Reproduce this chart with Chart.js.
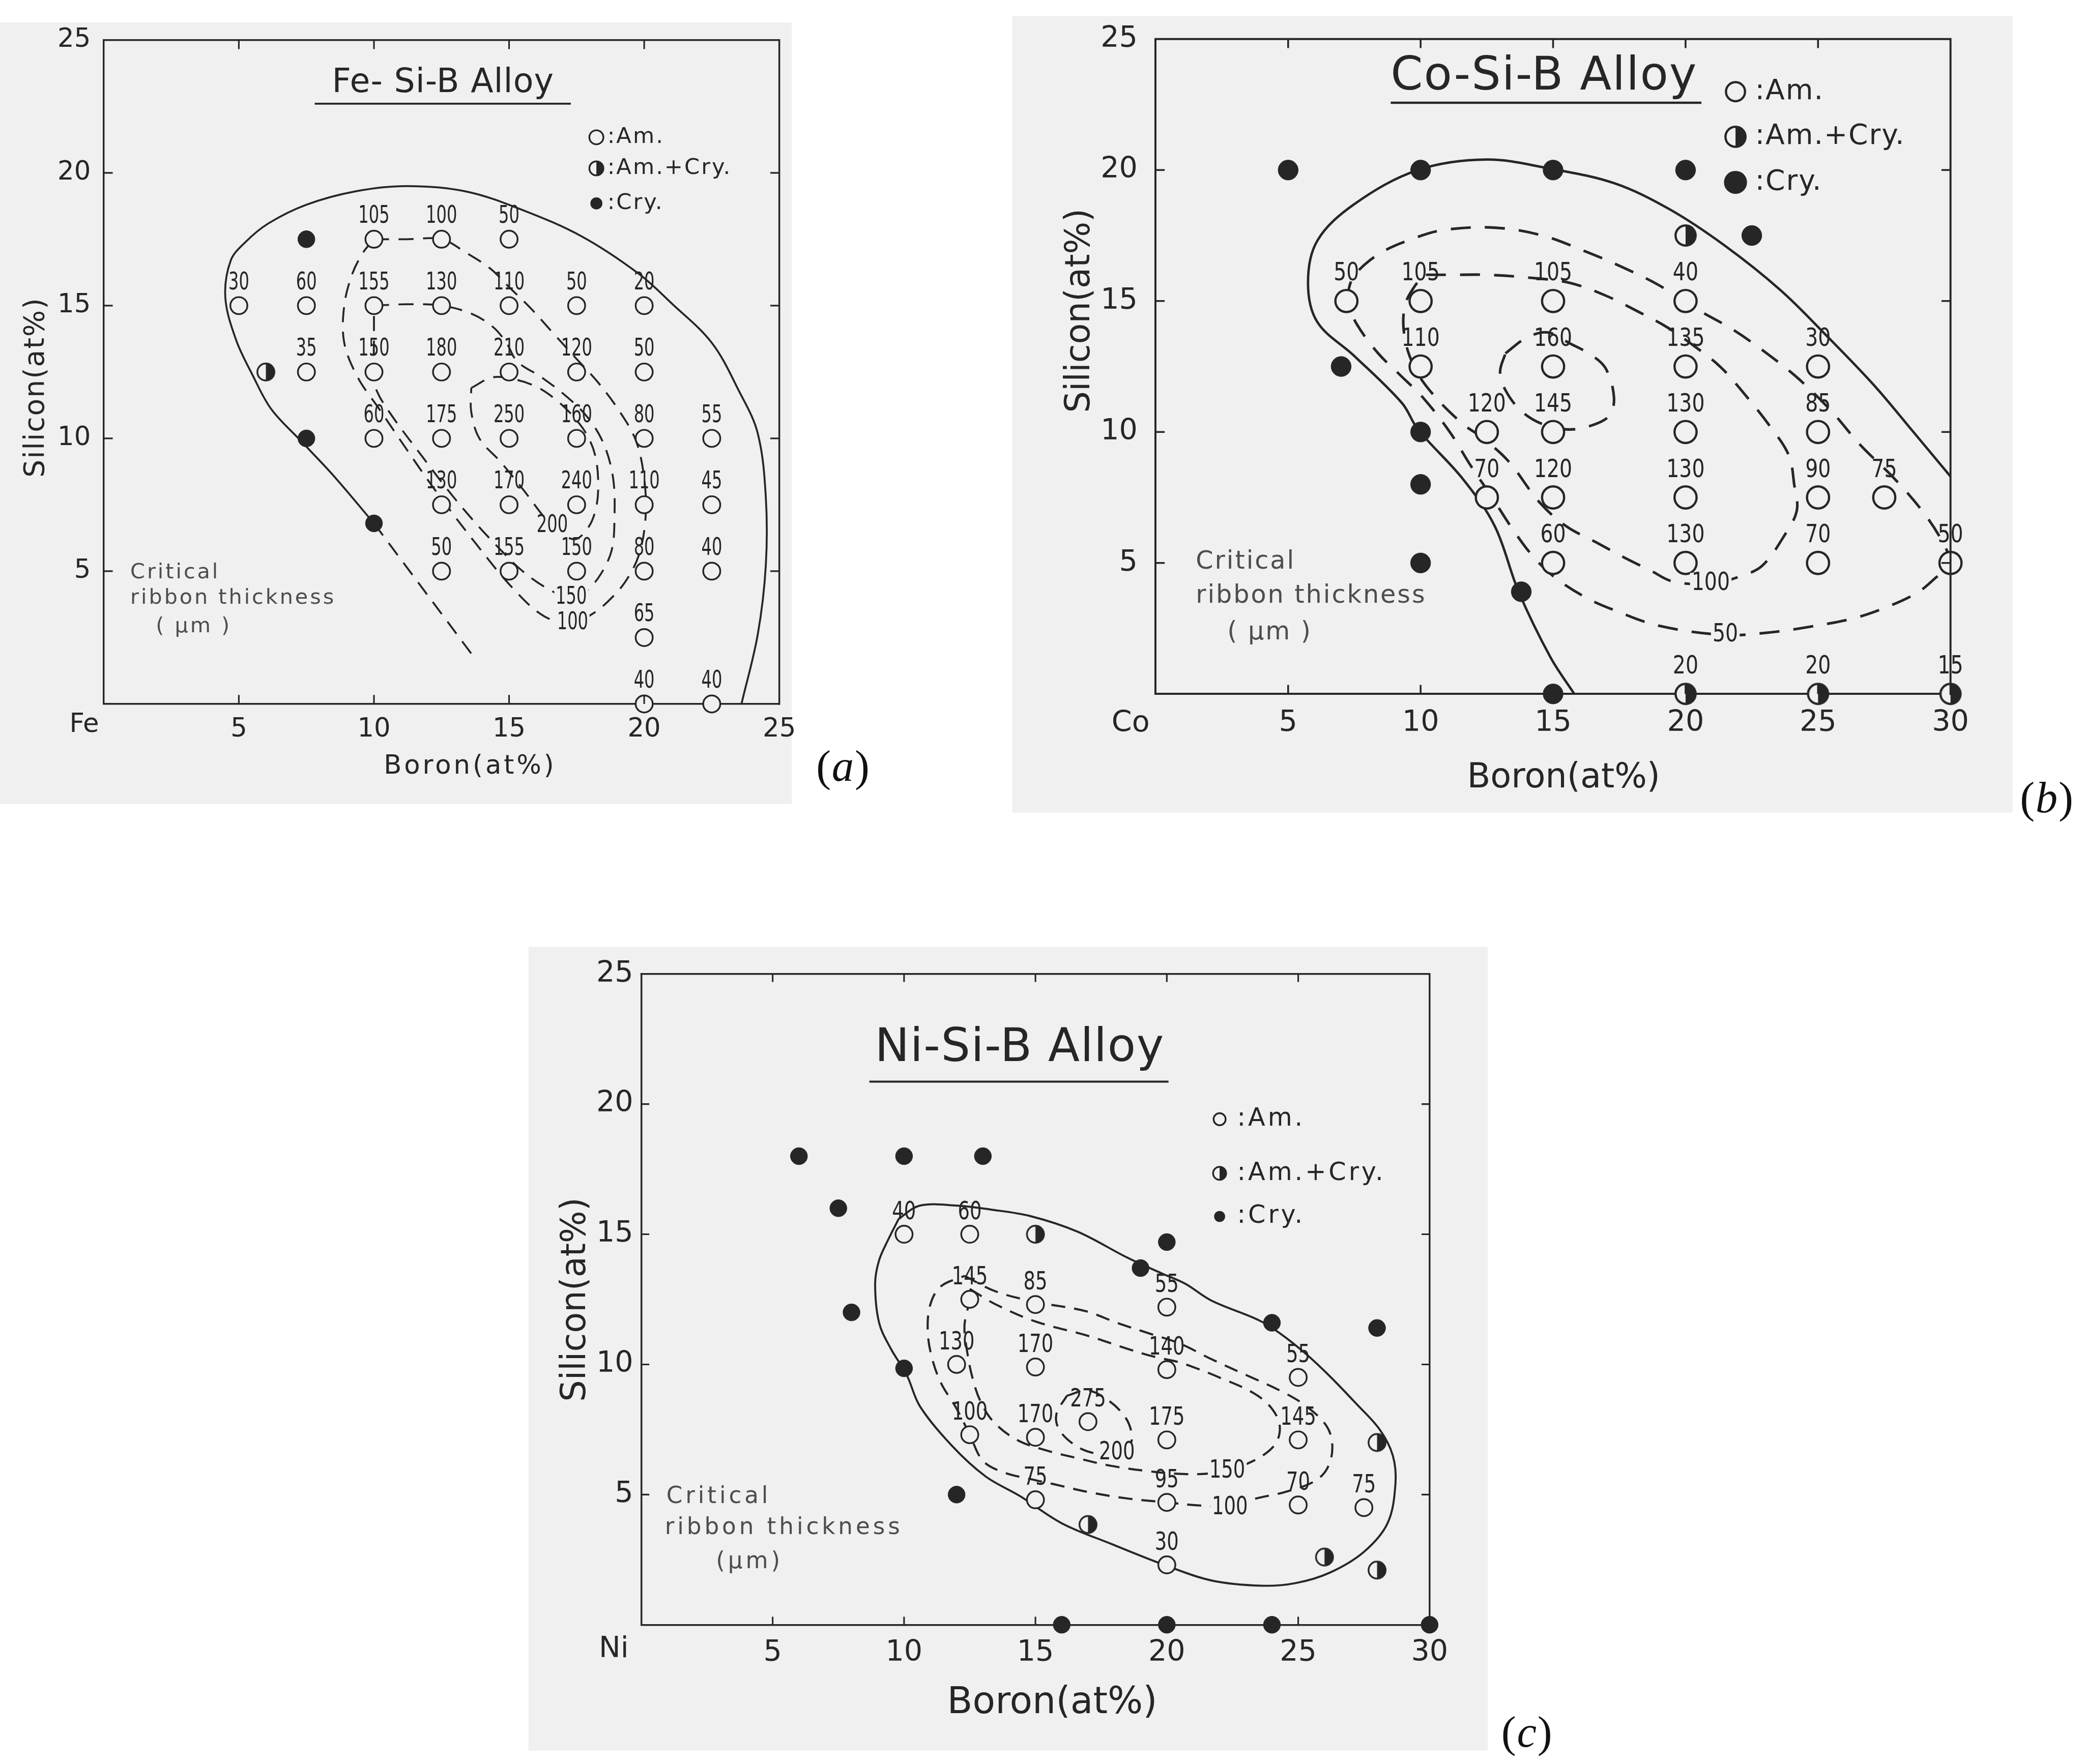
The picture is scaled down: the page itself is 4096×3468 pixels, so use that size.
<!DOCTYPE html>
<html lang="en">
<head>
<meta charset="utf-8">
<title>Critical ribbon thickness of Fe-, Co-, Ni-Si-B alloys</title>
<script src="https://cdn.jsdelivr.net/npm/chart.js@4.4.1/dist/chart.umd.min.js"></script>
<style>
html,body{margin:0;padding:0;background:#ffffff;}
#sheet{position:relative;width:4096px;height:3468px;overflow:hidden;background:#ffffff;}
#sheet canvas{position:absolute;display:block;}
</style>
</head>
<body>
<div id="sheet">
<canvas id="ca"></canvas>
<canvas id="cb"></canvas>
<canvas id="cc"></canvas>
</div>
<script>
// ================= DATA =================
// (a) Fe-Si-B : boron at%, silicon at%, critical ribbon thickness (um)
const feAmB  = [10,12.5,15, 5,7.5,10,12.5,15,17.5,20, 7.5,10,12.5,15,17.5,20, 10,12.5,15,17.5,20,22.5, 12.5,15,17.5,20,22.5, 12.5,15,17.5,20,22.5, 20, 20,22.5];
const feAmSi = [17.5,17.5,17.5, 15,15,15,15,15,15,15, 12.5,12.5,12.5,12.5,12.5,12.5, 10,10,10,10,10,10, 7.5,7.5,7.5,7.5,7.5, 5,5,5,5,5, 2.5, 0,0];
const feAmThk = ['105','100','50', '30','60','155','130','110','50','20', '35','150','180','210','120','50', '60','175','250','160','80','55', '130','170','240','110','45', '50','155','150','80','40', '65', '40','40'];
const feMixB = [6];
const feMixSi = [12.5];
const feCryB = [7.5,7.5,10];
const feCrySi = [17.5,10,6.8];
const feLimit = [[10,6.8],[8.5,8.6],[7.3,9.9],[6.2,11.1],[5.5,12.4],[4.9,13.7],[4.5,15.3],[4.7,16.7],[5.25,17.4],[6.1,18.1],[7.5,18.8],[9.3,19.3],[11.2,19.5],[13.4,19.3],[15.5,18.6],[17.7,17.6],[19.8,16.2],[21,15.1],[22.5,13.6],[23.5,11.8],[24.2,10.2],[24.5,7.8],[24.5,5.2],[24.2,2.6],[23.6,0]];
const feLimitExt = [[10,6.8],[13.6,1.9]];
const feIso100 = [[10,17.5],[11.2,17.5],[12.5,17.5],[13.4,17.0],[14.3,16.4],[15.0,15.7],[15.8,14.9],[16.6,14.0],[17.4,13.1],[18.3,12.1],[19.1,11.0],[19.7,9.9],[20.0,8.5],[20.05,7.0],[19.8,5.6],[19.3,4.6],[18.7,3.9],[18.1,3.4],[17.35,3.05],[16.3,3.3],[15.1,4.4],[13.8,6.0],[12.3,8.0],[11.2,9.6],[10.2,11.1],[9.4,12.3],[8.9,13.6],[8.9,15.0],[9.2,16.2],[9.6,17.0],[10,17.5]];
const feIso150 = [[10,15],[11.2,15.05],[12.5,15],[13.6,14.7],[14.4,14.2],[14.9,13.6],[15.3,12.9],[16.2,12.3],[17.1,11.6],[17.9,10.8],[18.5,9.8],[18.85,8.5],[18.9,7],[18.8,5.8],[18.4,4.9],[17.9,4.3],[17.3,4.0],[16.5,4.3],[15.5,5.0],[14.5,6.0],[13.6,7.0],[12.7,8.1],[11.8,9.3],[10.7,10.8],[10.1,11.8],[10,12.5],[10,13.8],[10,15]];
const feIso200 = [[13.6,11.9],[14.4,12.3],[15.3,12.2],[16.1,11.9],[16.8,11.4],[17.4,10.8],[17.9,10.1],[18.2,9.3],[18.3,8.2],[18.2,7.3],[17.9,6.6],[17.4,6.2],[16.6,6.7],[15.5,8.1],[14.7,9.1],[13.9,10],[13.6,11],[13.6,11.9]];
const feIsoTxt = ['200','150','100'];
const feIsoB = [16.6,17.3,17.35];
const feIsoSi = [6.7,4.0,3.05];

// (b) Co-Si-B
const coAmB  = [7.2,10,15,20, 10,15,20,25, 12.5,15,20,25, 12.5,15,20,25,27.5, 15,20,25,30];
const coAmSi = [15,15,15,15, 12.5,12.5,12.5,12.5, 10,10,10,10, 7.5,7.5,7.5,7.5,7.5, 5,5,5,5];
const coAmThk = ['50','105','105','40', '110','160','135','30', '120','145','130','85', '70','120','130','90','75', '60','130','70','50'];
const coMixB = [20,20,25,30];
const coMixSi = [17.5,0,0,0];
const coMixThk = ['','20','20','15'];
const coCryB = [5,10,15,20,22.5,7,10,10,10,13.8,15];
const coCrySi = [20,20,20,20,17.5,12.5,10,8,5,3.9,0];
const coLimit = [[15.8,0],[14.9,1.4],[13.7,3.9],[12.8,6.4],[11.6,8.2],[9.9,10.1],[9.3,11.1],[7.5,12.9],[6.1,14.2],[5.75,15.7],[6.1,17.3],[7.5,18.7],[9.9,20],[12.5,20.4],[14.9,20.05],[17.3,19.5],[19.4,18.5],[21.5,17.1],[23.6,15.4],[25.3,13.7],[27.1,11.8],[28.6,10],[30,8.3]];
const coIso50 = [[7.2,15.0],[7.4,15.8],[7.9,16.4],[8.6,16.9],[9.5,17.3],[10.8,17.7],[12.8,17.8],[14.6,17.5],[16.2,16.9],[17.6,16.3],[19,15.6],[20.4,14.7],[21.8,13.9],[23.2,12.9],[24.3,12],[25.5,10.8],[26.6,9.5],[27.9,8.2],[29,6.9],[29.7,5.8],[30,5],[29.4,4.4],[28.8,3.9],[27.8,3.4],[26.4,2.9],[24.6,2.55],[23.2,2.35],[21.5,2.25],[19,2.6],[17.3,3.2],[16.2,3.7],[15,4.5],[14.2,5.3],[13.4,6.4],[12.7,7.5],[11.9,8.7],[11.1,10.0],[10.1,11.3],[9.2,12.2],[8.4,13.0],[7.6,14.1],[7.2,15.0]];
const coIso100 = [[10.2,16],[11.2,16],[12.5,16],[14,15.9],[15.6,15.7],[17,15.2],[18.2,14.6],[19.3,14],[20.3,13.3],[21.3,12.5],[22.1,11.6],[23.2,10.2],[23.9,9.1],[24.1,8],[24.2,7],[23.7,6],[22.9,4.9],[22.1,4.5],[20.9,4.2],[19.5,4.3],[18.7,4.7],[17.7,5.2],[16.6,5.8],[15.5,6.4],[14.5,7.3],[13.3,8.9],[12.3,9.8],[11.6,10.3],[10.5,11.4],[9.8,12.4],[9.4,13.6],[9.4,14.8],[9.8,15.6],[10.2,16]];
const coIsoCore = [[13.2,13.0],[14,13.6],[14.8,13.8],[15.6,13.4],[16.5,12.9],[17,12.4],[17.3,11.3],[17.1,10.6],[16.3,10.2],[15.5,10.1],[14.6,10.3],[13.8,10.8],[13.2,11.6],[13,12.3],[13.2,13.0]];
const coIsoTxt = ['100','50'];
const coIsoB = [20.95,21.5];
const coIsoSi = [4.22,2.25];

// (c) Ni-Si-B
const niAmB  = [10,12.5, 12.5,15,20, 12,15,20,25, 12.5,15,17,20,25, 15,20,25,27.5, 20];
const niAmSi = [15,15, 12.5,12.3,12.2, 10,9.9,9.8,9.5, 7.3,7.2,7.8,7.1,7.1, 4.8,4.7,4.6,4.5, 2.3];
const niAmThk = ['40','60', '145','85','55', '130','170','140','55', '100','170','275','175','145', '75','95','70','75', '30'];
const niMixB = [15,28,17,26,28];
const niMixSi = [15,7,3.85,2.6,2.1];
const niCryB = [6,10,13,7.5,8,19,20,24,28,10,12,16,20,24,30];
const niCrySi = [18,18,18,16,12,13.7,14.7,11.6,11.4,9.85,5,0,0,0,0];
const niLimit = [[9.8,15.6],[9.4,14.8],[9.05,14.0],[8.9,13.1],[9.05,11.6],[9.5,10.6],[10.1,9.6],[10.6,8.4],[11.8,6.9],[13.1,5.7],[14.4,4.95],[16,3.9],[17.9,3.1],[19.9,2.3],[21.7,1.7],[23.6,1.5],[24.9,1.6],[26.2,2.0],[27.5,2.8],[28.4,3.9],[28.7,5.4],[28.6,6.5],[28.1,7.5],[27.2,8.5],[26.2,9.55],[25.3,10.4],[24.3,11.2],[23.5,11.7],[21.7,12.45],[20.7,13.1],[19.8,13.5],[18.5,14.1],[16.6,15.1],[14.8,15.7],[13.3,15.95],[12,16.1],[10.6,16.1],[9.8,15.6]];
const niIso100 = [[12.3,13.4],[13.5,12.8],[15,12.4],[16.9,12.05],[18.1,11.6],[19.3,11.2],[20.5,10.8],[21.7,10.2],[23,9.6],[24.3,9.0],[25.3,8.4],[26.1,7.6],[26.3,6.8],[26.1,6.0],[25.6,5.5],[24.5,5.1],[23.4,4.85],[22.4,4.55],[21,4.6],[20,4.7],[18.5,4.85],[17,5.1],[15.7,5.4],[14.8,5.6],[13.8,5.85],[13,6.3],[12.5,7.3],[12,8.3],[11.4,9.3],[11.05,10.3],[10.9,11.3],[11,12.3],[11.4,13.0],[12.3,13.4]];
const niIso150 = [[12.5,12.9],[13.5,12.3],[15,11.65],[17,11.1],[18.5,10.6],[19.5,10.3],[20.4,10.1],[21,9.9],[22,9.5],[23.3,8.9],[24,8.3],[24.3,7.6],[24.1,6.9],[23.3,6.3],[22.3,5.95],[21.5,5.8],[20.4,5.8],[19.3,5.9],[17.9,6.1],[16.6,6.4],[15.4,6.7],[14.3,7.1],[13.4,7.8],[12.9,8.6],[12.6,9.5],[12.4,10.5],[12.3,11.5],[12.5,12.5],[12.5,12.9]];
const niIso200 = [[16.2,8.8],[17,9.0],[17.8,8.6],[18.4,8.0],[18.65,7.4],[18.6,6.9],[18.1,6.55],[17.2,6.6],[16.5,6.9],[15.9,7.5],[15.8,8.1],[16.2,8.8]];
const niIsoTxt = ['200','150','100'];
const niIsoB = [18.1,22.3,22.4];
const niIsoSi = [6.6,5.9,4.5];

// shared text
const axisTicks = [0,5,10,15,20,25,30];
const legendLabels = [':Am.', ':Am.+Cry.', ':Cry.'];
const noteLinesAB = ['Critical', 'ribbon thickness', '( \u03bcm )'];
const noteLinesC = ['Critical', 'ribbon thickness', '(\u03bcm)'];

// ================= STYLE / LAYOUT =================
const S = 0.985;
const INK = '#262626';
const NOTE = '#4d4d4d';
const PAPER = '#f0f0f0';
const FONT = '"DejaVu Sans","Liberation Sans",Arial,sans-serif';
const SERIF = '"Liberation Serif","DejaVu Serif",serif';

const PA = {
  id:'ca', canvas:[0,0,1790,1640], paper:[0,45,1580,1605], area:[207,80,1555,1405], xMax:25,
  tickFont:52, yPad:26, xPad:20, axW:3.5, tickLen:18,
  elem:['Fe',168,1447],
  title:['Fe- Si-B Alloy',884,167,66,1], ul:[628,1139,207,4],
  legend:{x:1190, tx:1212, ys:[274,336,406], r:[14,14,12], font:44, ls:3},
  note:{lines:noteLinesAB, xs:[260,260,311], ys:[1143,1194,1251], font:42, ls:4},
  yTitle:[73,773,56,2], xTitle:[938,1531,52,5],
  letter:['a',1680,1535,88],
  lblFont:48, lblSx:0.68, lblOff:45,
  rOpen:17, rFill:17, rHalf:17, ptW:3.5,
  solidW:3.8, dashW:3.8, dash:[30,19]
};
const PB = {
  id:'cb', canvas:[2000,0,2157,1680], paper:[2020,32,4016,1622], area:[2306,78,3892,1385], xMax:30,
  tickFont:58, yPad:36, xPad:24, axW:4, tickLen:18,
  elem:['Co',2256,1445],
  title:['Co-Si-B Alloy',3081,155,92,2], ul:[2775,3395,205,4.5],
  legend:{x:3463, tx:3502, ys:[183,273,364], r:[19,20,23], font:56, ls:2},
  note:{lines:noteLinesAB, xs:[2386,2386,2449], ys:[1122,1190,1263], font:50, ls:3},
  yTitle:[2156,620,68,0], xTitle:[3120,1554,68,0],
  letter:['b',4082,1598,88],
  lblFont:50, lblSx:0.8, lblOff:54,
  rOpen:22, rFill:20, rHalf:20, ptW:4.5,
  solidW:4.8, dashW:5.2, dash:[40,28]
};
const PC = {
  id:'cc', canvas:[1040,1860,2117,1660], paper:[1055,1890,2969,3494], area:[1280,1944,2853,3243], xMax:30,
  tickFont:58, yPad:16, xPad:22, axW:3.5, tickLen:16,
  elem:['Ni',1225,3293],
  title:['Ni-Si-B Alloy',2035,2094,92,1.5], ul:[1735,2332,2159,4],
  legend:{x:2434, tx:2469, ys:[2234,2342,2428], r:[12,13,11], font:50, ls:5},
  note:{lines:noteLinesC, xs:[1330,1327,1429], ys:[2988,3050,3118], font:46, ls:6},
  yTitle:[1150,2594,68,0], xTitle:[2100,3400,74,0],
  letter:['c',3045,3463,88],
  lblFont:50, lblSx:0.75, lblOff:43,
  rOpen:17, rFill:17, rHalf:17, ptW:3.5,
  solidW:4, dashW:4.2, dash:[28,18]
};

// ================= HELPERS =================
const pts = (bs, ss) => bs.map((b, i) => ({x: b, y: ss[i]}));
const pairs = arr => arr.map(p => ({x: p[0], y: p[1]}));

function halfImage(r, lw) {
  const size = Math.ceil(2 * r + lw + 4);
  const c = document.createElement('canvas');
  c.width = size; c.height = size;
  const g = c.getContext('2d');
  drawSym(g, 'half', size / 2, size / 2, r, lw);
  return c;
}
function drawSym(g, kind, x, y, r, lw) {
  g.save();
  g.lineWidth = lw; g.strokeStyle = INK;
  g.beginPath(); g.arc(x, y, r, 0, 2 * Math.PI);
  if (kind === 'full') { g.fillStyle = INK; g.fill(); }
  else {
    g.fillStyle = PAPER; g.fill();
    if (kind === 'half') {
      g.beginPath(); g.moveTo(x, y - r); g.arc(x, y, r, -Math.PI / 2, Math.PI / 2); g.closePath();
      g.fillStyle = INK; g.fill();
      g.beginPath(); g.arc(x, y, r, 0, 2 * Math.PI);
    }
    g.stroke();
  }
  g.restore();
}
function txt(g, s, x, y, size, o) {
  o = o || {};
  g.save();
  g.font = (o.style ? o.style + ' ' : '') + size + 'px ' + (o.family || FONT);
  g.textAlign = o.align || 'center';
  g.textBaseline = 'middle';
  if (o.ls) { try { g.letterSpacing = o.ls + 'px'; } catch (e) {} }
  g.translate(x, y);
  if (o.rot) g.rotate(o.rot);
  if (o.sx) g.scale(o.sx, 1);
  if (o.bg) {
    const w = g.measureText(s).width;
    g.fillStyle = o.bg;
    g.fillRect(-w / 2 - size * 0.08, -size * 0.42, w + size * 0.16, size * 0.84);
  }
  g.fillStyle = o.color || INK;
  g.fillText(s, 0, 0);
  g.restore();
}

function lineSet(arr, P, dashed) {
  return {
    data: pairs(arr), showLine: true, pointRadius: 0, pointHoverRadius: 0,
    borderColor: INK, borderWidth: (dashed ? P.dashW : P.solidW) * S,
    borderDash: dashed ? P.dash.map(v => v * S) : [], tension: 0.35,
    fill: false, spanGaps: true, order: 5
  };
}
function pointSet(data, P, kind, lbls) {
  const ds = {data: data, showLine: false, order: 0, pointHoverRadius: 0, clip: false};
  if (kind === 'open') {
    Object.assign(ds, {pointStyle: 'circle', pointRadius: P.rOpen * S, pointBackgroundColor: PAPER,
      pointBorderColor: INK, pointBorderWidth: P.ptW * S});
  } else if (kind === 'full') {
    Object.assign(ds, {pointStyle: 'circle', pointRadius: P.rFill * S, pointBackgroundColor: INK,
      pointBorderColor: INK, pointBorderWidth: 1});
  } else {
    Object.assign(ds, {pointStyle: halfImage(P.rHalf * S, P.ptW * S), pointRadius: P.rHalf * S});
  }
  if (lbls) ds.lbls = lbls;
  return ds;
}

function decor(P, iso) {
  const X = v => (v - P.canvas[0]) * S;
  const Y = v => (v - P.canvas[1]) * S;
  return {
    id: 'decor_' + P.id,
    beforeDraw(chart) {
      const g = chart.ctx;
      g.save();
      g.fillStyle = '#ffffff'; g.fillRect(0, 0, chart.width, chart.height);
      const p = P.paper;
      g.fillStyle = PAPER; g.fillRect(X(p[0]), Y(p[1]), (p[2] - p[0]) * S, (p[3] - p[1]) * S);
      g.restore();
    },
    afterDatasetsDraw(chart) {
      const g = chart.ctx;
      chart.data.datasets.forEach((ds, i) => {
        if (!ds.lbls) return;
        const meta = chart.getDatasetMeta(i);
        meta.data.forEach((el, j) => {
          const t = ds.lbls[j];
          if (!t) return;
          txt(g, t, el.x, el.y - P.lblOff * S, P.lblFont * S, {sx: P.lblSx});
        });
      });
      const xs = chart.scales.x, ys = chart.scales.y;
      iso.txt.forEach((t, k) => {
        txt(g, t, xs.getPixelForValue(iso.b[k]), ys.getPixelForValue(iso.si[k]), P.lblFont * S,
          {sx: P.lblSx, bg: PAPER});
      });
    },
    afterDraw(chart) {
      const g = chart.ctx;
      const a = chart.chartArea;
      const xs = chart.scales.x, ys = chart.scales.y;
      g.save();
      g.strokeStyle = INK; g.lineWidth = P.axW * S; g.lineCap = 'square';
      g.beginPath();
      g.moveTo(a.left, a.top); g.lineTo(a.right, a.top); g.lineTo(a.right, a.bottom);
      g.stroke();
      const tl = P.tickLen * S;
      g.lineWidth = P.axW * 0.9 * S; g.lineCap = 'butt';
      g.beginPath();
      axisTicks.forEach(v => {
        if (v > 0 && v < P.xMax) {
          const px = xs.getPixelForValue(v);
          g.moveTo(px, a.bottom); g.lineTo(px, a.bottom - tl);
          g.moveTo(px, a.top); g.lineTo(px, a.top + tl);
        }
        if (v > 0 && v < 25) {
          const py = ys.getPixelForValue(v);
          g.moveTo(a.left, py); g.lineTo(a.left + tl, py);
          g.moveTo(a.right, py); g.lineTo(a.right - tl, py);
        }
      });
      g.stroke();
      g.restore();

      // element label at origin
      txt(g, P.elem[0], X(P.elem[1]), Y(P.elem[2]), P.tickFont * S);
      // title + underline
      const T = P.title;
      txt(g, T[0], X(T[1]), Y(T[2]), T[3] * S, {ls: T[4] * S});
      g.save();
      g.strokeStyle = INK; g.lineWidth = P.ul[3] * S;
      g.beginPath(); g.moveTo(X(P.ul[0]), Y(P.ul[2])); g.lineTo(X(P.ul[1]), Y(P.ul[2])); g.stroke();
      g.restore();
      // legend
      const L = P.legend;
      ['open', 'half', 'full'].forEach((k, i) => {
        drawSym(g, k, X(L.x), Y(L.ys[i]), L.r[i] * S, P.ptW * S);
        txt(g, legendLabels[i], X(L.tx), Y(L.ys[i]), L.font * S, {align: 'left', ls: L.ls * S});
      });
      // note
      const N = P.note;
      N.lines.forEach((s, i) => {
        txt(g, s, X(N.xs[i]), Y(N.ys[i]), N.font * S, {align: 'left', ls: N.ls * S, color: NOTE});
      });
      // axis titles
      txt(g, 'Silicon(at%)', X(P.yTitle[0]), Y(P.yTitle[1]), P.yTitle[2] * S, {rot: -Math.PI / 2, ls: P.yTitle[3] * S});
      txt(g, 'Boron(at%)', X(P.xTitle[0]), Y(P.xTitle[1]), P.xTitle[2] * S, {ls: P.xTitle[3] * S});
      // panel letter
      const Lt = P.letter;
      const size = Lt[3] * S;
      g.save();
      const up = size + 'px ' + SERIF, it = 'italic ' + size + 'px ' + SERIF;
      g.font = up; const wp = g.measureText('(').width, wq = g.measureText(')').width;
      g.font = it; const wc = g.measureText(Lt[0]).width;
      let x0 = X(Lt[1]) - (wp + wc + wq) / 2;
      const y0 = Y(Lt[2]);
      g.textBaseline = 'middle'; g.textAlign = 'left'; g.fillStyle = '#111111';
      g.font = up; g.fillText('(', x0, y0);
      g.font = it; g.fillText(Lt[0], x0 + wp + size * 0.02, y0);
      g.font = up; g.fillText(')', x0 + wp + wc + size * 0.04, y0);
      g.restore();
    }
  };
}

function buildPanel(P, datasets, iso) {
  const cv = document.getElementById(P.id);
  const [cx, cy, cw, ch] = P.canvas;
  const W = Math.round(cw * S), H = Math.round(ch * S);
  cv.width = W; cv.height = H;
  cv.style.left = Math.round(cx * S) + 'px'; cv.style.top = Math.round(cy * S) + 'px';
  cv.style.width = W + 'px'; cv.style.height = H + 'px';
  const [l, t, r, b] = P.area;
  const yW = (l - cx) * S, padT = (t - cy) * S, padR = W - (r - cx) * S, xH = H - (b - cy) * S;
  const tickFont = {family: FONT, size: P.tickFont * S};
  return new Chart(cv, {
    type: 'scatter',
    data: {datasets: datasets},
    options: {
      responsive: false, maintainAspectRatio: false, animation: false, devicePixelRatio: 1,
      events: [],
      layout: {padding: {left: 0, top: padT, right: padR, bottom: 0}},
      plugins: {legend: {display: false}, tooltip: {enabled: false}, title: {display: false}},
      scales: {
        x: {
          type: 'linear', position: 'bottom', min: 0, max: P.xMax,
          afterFit: s => { s.height = xH; },
          ticks: {stepSize: 5, autoSkip: false, maxRotation: 0, minRotation: 0, padding: P.xPad * S,
            color: INK, font: tickFont, callback: v => (v === 0 ? '' : String(v))},
          grid: {display: false, drawTicks: false},
          border: {display: true, color: INK, width: P.axW * S}
        },
        y: {
          type: 'linear', position: 'left', min: 0, max: 25,
          afterFit: s => { s.width = yW; },
          ticks: {stepSize: 5, autoSkip: false, padding: P.yPad * S,
            color: INK, font: tickFont, callback: v => (v === 0 ? '' : String(v))},
          grid: {display: false, drawTicks: false},
          border: {display: true, color: INK, width: P.axW * S}
        }
      }
    },
    plugins: [decor(P, iso)]
  });
}

// ================= BUILD =================
buildPanel(PA, [
  pointSet(pts(feAmB, feAmSi), PA, 'open', feAmThk),
  pointSet(pts(feMixB, feMixSi), PA, 'half'),
  pointSet(pts(feCryB, feCrySi), PA, 'full'),
  lineSet(feLimit, PA, false),
  lineSet(feLimitExt, PA, true),
  lineSet(feIso100, PA, true),
  lineSet(feIso150, PA, true),
  lineSet(feIso200, PA, true)
], {txt: feIsoTxt, b: feIsoB, si: feIsoSi});

buildPanel(PB, [
  pointSet(pts(coAmB, coAmSi), PB, 'open', coAmThk),
  pointSet(pts(coMixB, coMixSi), PB, 'half', coMixThk),
  pointSet(pts(coCryB, coCrySi), PB, 'full'),
  lineSet(coLimit, PB, false),
  lineSet(coIso50, PB, true),
  lineSet(coIso100, PB, true),
  lineSet(coIsoCore, PB, true)
], {txt: coIsoTxt, b: coIsoB, si: coIsoSi});

buildPanel(PC, [
  pointSet(pts(niAmB, niAmSi), PC, 'open', niAmThk),
  pointSet(pts(niMixB, niMixSi), PC, 'half'),
  pointSet(pts(niCryB, niCrySi), PC, 'full'),
  lineSet(niLimit, PC, false),
  lineSet(niIso100, PC, true),
  lineSet(niIso150, PC, true),
  lineSet(niIso200, PC, true)
], {txt: niIsoTxt, b: niIsoB, si: niIsoSi});
</script>
</body>
</html>
